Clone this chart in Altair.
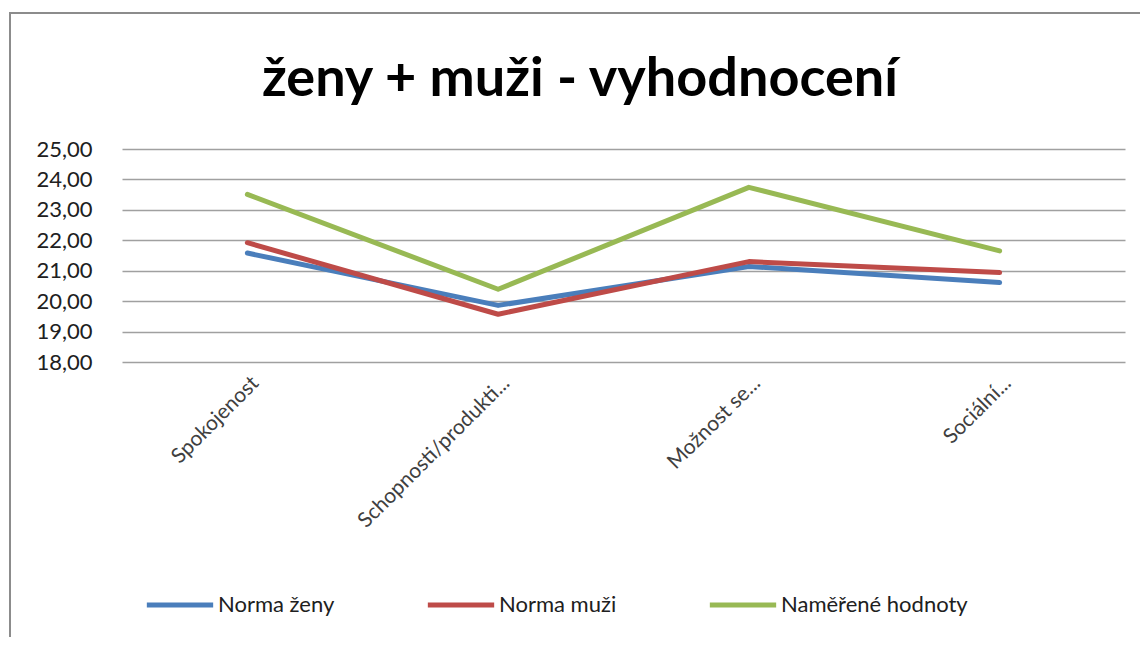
import altair as alt
import pandas as pd

categories = ["Spokojenost", "Schopnosti/produkti...", "Možnost se...", "Sociální..."]
series_names = ["Norma ženy", "Norma muži", "Naměřené hodnoty"]
norma_zeny = [21.58, 19.86, 21.14, 20.61]
norma_muzi = [21.92, 19.57, 21.30, 20.94]
namerene = [23.51, 20.39, 23.74, 21.65]
colors = ["#4A7EBB", "#BE4B48", "#98B954"]
y_ticks = [18, 19, 20, 21, 22, 23, 24, 25]
title_text = "ženy + muži - vyhodnocení"

rows = []
for name, vals in zip(series_names, [norma_zeny, norma_muzi, namerene]):
    for c, v in zip(categories, vals):
        rows.append({"kategorie": c, "hodnota": v, "serie": name})
df = pd.DataFrame(rows)

FONT = "Lato"

lines = alt.Chart(df).mark_line(strokeWidth=5, strokeCap="round", strokeJoin="round").encode(
    x=alt.X("kategorie:N", sort=categories, title=None,
            scale=alt.Scale(paddingOuter=0.5, paddingInner=1),
            axis=alt.Axis(labelAngle=-45, labelFontSize=21, labelColor="#404040",
                          labelFont=FONT, domain=False, ticks=False, grid=False,
                          labelPadding=10, labelLimit=400)),
    y=alt.Y("hodnota:Q", title=None,
            scale=alt.Scale(domain=[18, 25], nice=False, zero=False),
            axis=alt.Axis(values=y_ticks, labelExpr="replace(format(datum.value, '.2f'), '.', ',')",
                          labelFontSize=22, labelFont=FONT, labelColor="#202020",
                          domain=False, ticks=False, gridColor="#A0A0A0", gridWidth=1.5,
                          labelPadding=30)),
    color=alt.Color("serie:N", sort=series_names,
                    scale=alt.Scale(domain=series_names, range=colors),
                    legend=alt.Legend(title=None, orient="none", direction="horizontal",
                                      legendX=22, legendY=420, symbolType="stroke",
                                      symbolSize=4400, symbolStrokeWidth=5,
                                      labelFontSize=22, labelFont=FONT, labelColor="#202020",
                                      labelLimit=400, columnPadding=82, labelOffset=2)),
    detail="serie:N",
)

border = alt.Chart(alt.Data(values=[{"a": 1}])).mark_rect(
    fill=None, stroke="#8C8C8C", strokeWidth=2
).encode(x=alt.value(-112), x2=alt.value(1100), y=alt.value(-136), y2=alt.value(600))

title = alt.Chart(alt.Data(values=[{"t": title_text}])).mark_text(
    font=FONT, fontSize=54, fontWeight="bold", color="#000000", align="center", baseline="alphabetic"
).encode(text="t:N", x=alt.value(458), y=alt.value(-53))

chart = alt.layer(border, lines, title).properties(
    width=1003, height=213,
    autosize=alt.AutoSizeParams(type="none"),
    padding={"left": 114, "top": 141, "right": 15, "bottom": 275},
).configure(background="white").configure_view(stroke=None)

chart.save("out.html", embed_options={"renderer": "svg", "actions": False})
